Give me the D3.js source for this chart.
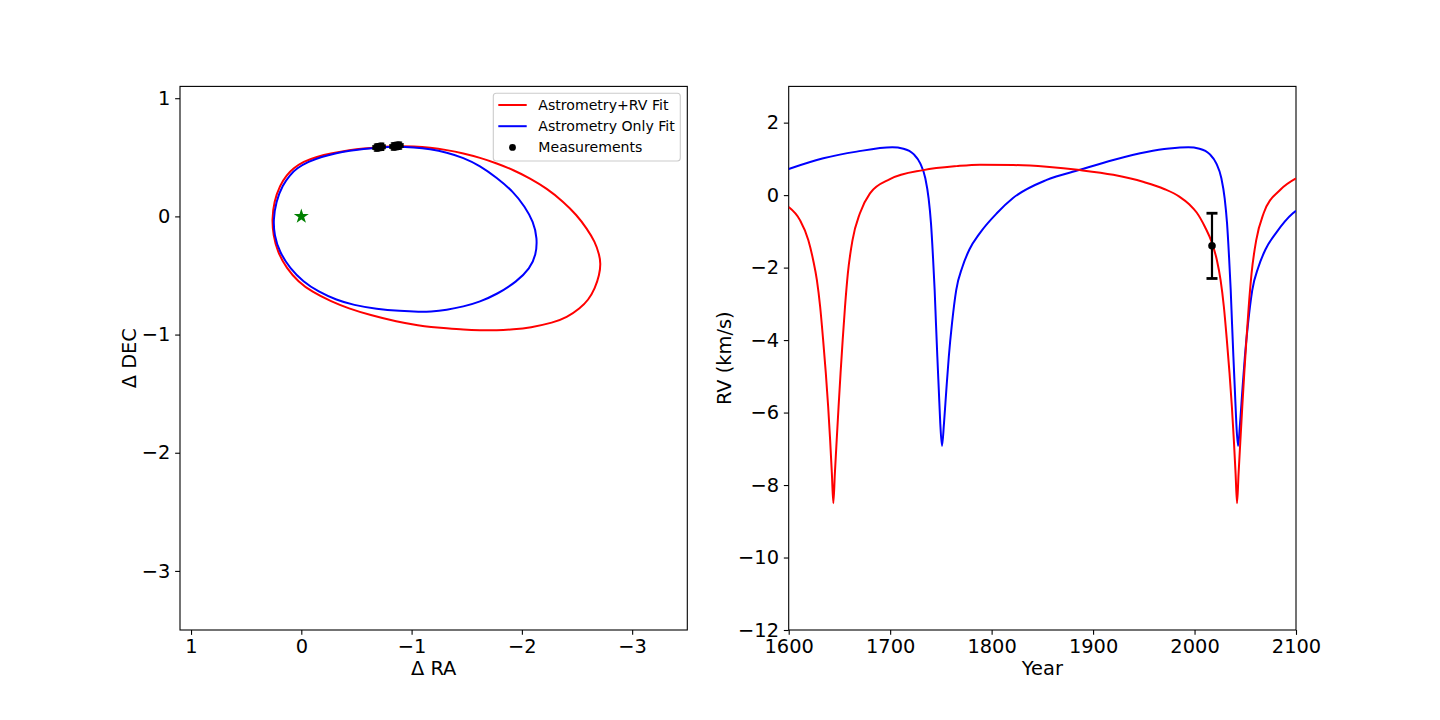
<!DOCTYPE html>
<html>
<head>
<meta charset="utf-8">
<script src="https://cdn.jsdelivr.net/npm/d3@7"></script>
<style>
  html, body { margin: 0; padding: 0; background: #fff; }
  text { font-family: "DejaVu Sans", sans-serif; }
</style>
</head>
<body>
<div id="chart"></div>
<script>
// ---- data ----
// left panel: projected orbits (ΔRA, ΔDEC), traced round the ellipse
var orbitRvRA  = [-0.700, -0.870, -1.020, -1.167, -1.318, -1.469, -1.620, -1.772, -1.923, -2.074, -2.225, -2.376, -2.497, -2.588, -2.663, -2.703, -2.715, -2.703, -2.663, -2.603, -2.527, -2.406, -2.285, -2.074, -1.923, -1.772, -1.620, -1.469, -1.318, -1.167, -1.076, -0.865, -0.623, -0.426, -0.275, -0.094, 0.027, 0.133, 0.217, 0.254, 0.266, 0.248, 0.193, 0.133, 0.072, -0.018, -0.139, -0.275, -0.442, -0.562];
var orbitRvDEC = [0.586, 0.596, 0.592, 0.582, 0.562, 0.534, 0.497, 0.449, 0.393, 0.322, 0.237, 0.125, 0.012, -0.101, -0.214, -0.327, -0.397, -0.496, -0.609, -0.708, -0.778, -0.857, -0.899, -0.942, -0.956, -0.964, -0.964, -0.959, -0.947, -0.935, -0.925, -0.891, -0.835, -0.778, -0.722, -0.637, -0.553, -0.440, -0.299, -0.158, -0.031, 0.125, 0.266, 0.350, 0.407, 0.463, 0.505, 0.534, 0.562, 0.576];
var orbitAstRA  = [-0.700, -0.870, -1.020, -1.167, -1.318, -1.469, -1.620, -1.772, -1.923, -2.028, -2.104, -2.140, -2.128, -2.074, -1.953, -1.772, -1.620, -1.469, -1.318, -1.167, -1.076, -0.895, -0.683, -0.472, -0.321, -0.154, -0.018, 0.103, 0.199, 0.245, 0.254, 0.230, 0.169, 0.103, 0.042, -0.064, -0.185, -0.306, -0.442, -0.562];
var orbitAstDEC = [0.585, 0.592, 0.585, 0.570, 0.542, 0.497, 0.429, 0.328, 0.209, 0.082, -0.045, -0.186, -0.327, -0.440, -0.553, -0.660, -0.722, -0.764, -0.792, -0.806, -0.808, -0.801, -0.784, -0.750, -0.708, -0.637, -0.553, -0.440, -0.299, -0.158, -0.031, 0.125, 0.266, 0.350, 0.407, 0.463, 0.505, 0.534, 0.556, 0.570];

var measRA   = [-0.680, -0.692, -0.705, -0.718, -0.730, -0.834, -0.848, -0.862, -0.877, -0.892];
var measDEC  = [0.582, 0.584, 0.586, 0.588, 0.589, 0.592, 0.594, 0.596, 0.598, 0.599];
var measErr  = [0.03, 0.03, 0.03, 0.03, 0.03, 0.03, 0.03, 0.03, 0.03, 0.03];
var starPos  = [0, 0];

// right panel: RV curves
var rvYearRV = [1600, 1611.1, 1619.3, 1624.1, 1627.75, 1631.0, 1633.95, 1636.6, 1638.9, 1640.85, 1642.55, 1644.0, 1645.5, 1647.3, 1649.15, 1651.1, 1653.2, 1655.5, 1658.3, 1662.9, 1670.2, 1680.1, 1699.8, 1732.7, 1765.6, 1788.5, 1821.4, 1854.3, 1887.1, 1919.9, 1950, 1970, 1985, 1995, 2002.1, 2010.3, 2017.2, 2022.0, 2025.65, 2028.9, 2031.85, 2034.5, 2036.8, 2038.75, 2040.45, 2041.9, 2043.4, 2045.2, 2047.05, 2049.0, 2051.1, 2053.4, 2056.2, 2060.8, 2068.1, 2084.3, 2100];
var rvValRV  = [-0.33, -0.69, -1.24, -1.79, -2.34, -3.08, -4.00, -4.92, -5.84, -6.76, -7.68, -8.50, -7.68, -6.76, -5.84, -4.92, -4.00, -3.08, -2.16, -1.24, -0.50, 0.05, 0.44, 0.69, 0.80, 0.84, 0.83, 0.78, 0.69, 0.56, 0.36, 0.17, -0.04, -0.26, -0.48, -0.88, -1.32, -1.79, -2.34, -3.08, -4.00, -4.92, -5.84, -6.76, -7.68, -8.50, -7.68, -6.76, -5.84, -4.92, -4.00, -3.08, -2.16, -1.24, -0.50, 0.14, 0.46];

var rvYearAst = [1600, 1634.1, 1667, 1702.1, 1713.1, 1723.1, 1729.65, 1734.65, 1737.9, 1740.25, 1742.2, 1743.85, 1745.15, 1746.5, 1747.95, 1749.4, 1751.1, 1753.05, 1755.35, 1757.8, 1760.95, 1765.1, 1771.1, 1778.1, 1788.6, 1805.1, 1821.1, 1854.3, 1887.1, 1919.9, 1952.8, 1975, 1993.9, 2004.9, 2014.9, 2021.45, 2026.45, 2029.7, 2032.05, 2034.0, 2035.65, 2036.95, 2038.3, 2039.75, 2041.2, 2042.9, 2044.85, 2047.15, 2049.6, 2052.75, 2056.9, 2062.9, 2069.9, 2080.4, 2096.9, 2100];
var rvValAst  = [0.72, 1.015, 1.20, 1.32, 1.28, 1.13, 0.875, 0.465, -0.09, -0.78, -1.70, -2.62, -3.54, -4.46, -5.38, -6.30, -6.92, -6.30, -5.38, -4.46, -3.54, -2.62, -1.99, -1.50, -1.04, -0.50, -0.08, 0.42, 0.70, 0.97, 1.19, 1.285, 1.32, 1.28, 1.13, 0.875, 0.465, -0.09, -0.78, -1.70, -2.62, -3.54, -4.46, -5.38, -6.30, -6.92, -6.30, -5.38, -4.46, -3.54, -2.62, -1.99, -1.50, -1.04, -0.50, -0.43];

var rvObsYear = [2017.2];
var rvObsVal  = [-1.40];
var rvObsErr  = [0.90];

var xTicksL = [1, 0, -1, -2, -3];
var yTicksL = [1, 0, -1, -2, -3];
var xTicksR = [1600, 1700, 1800, 1900, 2000, 2100];
var yTicksR = [2, 0, -2, -4, -6, -8, -10, -12];

var legendLabels = ["Astrometry+RV Fit", "Astrometry Only Fit", "Measurements"];

// ---- layout ----
var W = 1440, H = 720;
var axTop = 86.4, axBot = 630;
var fs = 19.4, tick = 4.86;

var svg = d3.select("#chart").append("svg")
    .attr("width", W)
    .attr("height", H)
    .style("background", "#fff");

var xL = d3.scaleLinear().domain([1.1, -3.5]).range([180, 687.3]);
var yL = d3.scaleLinear().domain([-3.5, 1.1]).range([axBot, axTop]);
var xR = d3.scaleLinear().domain([1600, 2100]).range([788.7, 1296]);
var yR = d3.scaleLinear().domain([-12, 3]).range([axBot, axTop]);

var fmt = d3.format("d");

function drawAxes(x, y, xt, yt, xlabel, ylabel, ylabelX) {
  var g = svg.append("g");
  var ax = g.append("g")
      .attr("transform", "translate(0," + axBot + ")")
      .call(d3.axisBottom(x).tickValues(xt).tickFormat(fmt).tickSize(tick).tickPadding(tick).tickSizeOuter(0));
  var ay = g.append("g")
      .attr("transform", "translate(" + x.range()[0] + ",0)")
      .call(d3.axisLeft(y).tickValues(yt).tickFormat(fmt).tickSize(tick).tickPadding(tick).tickSizeOuter(0));
  [ax, ay].forEach(function(a) {
    a.select(".domain").remove();
    a.attr("font-family", "DejaVu Sans").attr("font-size", fs);
    a.selectAll(".tick line").attr("stroke", "#000").attr("stroke-width", 1.1);
    a.selectAll(".tick text").attr("fill", "#000");
  });
  g.append("rect")
      .attr("x", x.range()[0])
      .attr("y", axTop)
      .attr("width", x.range()[1] - x.range()[0])
      .attr("height", axBot - axTop)
      .attr("fill", "none")
      .attr("stroke", "#000")
      .attr("stroke-width", 1.1);
  g.append("text")
      .attr("x", (x.range()[0] + x.range()[1]) / 2)
      .attr("y", 675)
      .attr("text-anchor", "middle")
      .attr("font-size", fs)
      .text(xlabel);
  g.append("text")
      .attr("transform", "translate(" + ylabelX + "," + ((axTop + axBot) / 2) + ") rotate(-90)")
      .attr("text-anchor", "middle")
      .attr("dy", "0.35em")
      .attr("font-size", fs)
      .text(ylabel);
}

drawAxes(xL, yL, xTicksL, yTicksL, "\u0394 RA", "\u0394 DEC", 129);
drawAxes(xR, yR, xTicksR, yTicksR, "Year", "RV (km/s)", 724);

// clip regions
var defs = svg.append("defs");
defs.append("clipPath").attr("id", "clipL").append("rect")
    .attr("x", 180).attr("y", axTop).attr("width", 507.3).attr("height", axBot - axTop);
defs.append("clipPath").attr("id", "clipR").append("rect")
    .attr("x", 788.7).attr("y", axTop).attr("width", 507.3).attr("height", axBot - axTop);

// ---- left panel ----
var pl = svg.append("g").attr("clip-path", "url(#clipL)");
// B-spline evens out the small wobble of hand-read points
var orbitLine = d3.line()
    .x(function(d) { return xL(d[0]); })
    .y(function(d) { return yL(d[1]); })
    .curve(d3.curveBasisClosed);

pl.append("path")
    .datum(d3.zip(orbitRvRA, orbitRvDEC))
    .attr("d", orbitLine)
    .attr("fill", "none")
    .attr("stroke", "#ff0000")
    .attr("stroke-width", 2);
pl.append("path")
    .datum(d3.zip(orbitAstRA, orbitAstDEC))
    .attr("d", orbitLine)
    .attr("fill", "none")
    .attr("stroke", "#0000ff")
    .attr("stroke-width", 2);

var meas = d3.zip(measRA, measDEC, measErr);
var cap = 2.5;
var mg = pl.append("g").attr("stroke", "#000").attr("stroke-width", 1.3);
meas.forEach(function(d) {
  var cx = xL(d[0]), cy = yL(d[1]);
  var x0 = xL(d[0] + d[2]), x1 = xL(d[0] - d[2]);
  var y0 = yL(d[1] + d[2]), y1 = yL(d[1] - d[2]);
  mg.append("line").attr("x1", x0).attr("x2", x1).attr("y1", cy).attr("y2", cy);
  mg.append("line").attr("x1", cx).attr("x2", cx).attr("y1", y0).attr("y2", y1);
  mg.append("line").attr("x1", x0).attr("x2", x0).attr("y1", cy - cap).attr("y2", cy + cap);
  mg.append("line").attr("x1", x1).attr("x2", x1).attr("y1", cy - cap).attr("y2", cy + cap);
  mg.append("line").attr("x1", cx - cap).attr("x2", cx + cap).attr("y1", y0).attr("y2", y0);
  mg.append("line").attr("x1", cx - cap).attr("x2", cx + cap).attr("y1", y1).attr("y2", y1);
});
pl.selectAll(".meas")
    .data(meas)
  .enter().append("circle")
    .attr("class", "meas")
    .attr("cx", function(d) { return xL(d[0]); })
    .attr("cy", function(d) { return yL(d[1]); })
    .attr("r", 3.5)
    .attr("fill", "#000");

pl.append("path")
    .attr("d", d3.symbol().type(d3.symbolStar).size(70)())
    .attr("transform", "translate(" + xL(starPos[0]) + "," + yL(starPos[1]) + ")")
    .attr("fill", "#008000");

// legend
var lg = svg.append("g");
lg.append("rect")
    .attr("x", 493.3).attr("y", 93.3)
    .attr("width", 187).attr("height", 67.7)
    .attr("rx", 3).attr("ry", 3)
    .attr("fill", "#fff").attr("fill-opacity", 0.8)
    .attr("stroke", "#cccccc").attr("stroke-width", 1.1);
var legColors = ["#ff0000", "#0000ff", "#000"];
legendLabels.forEach(function(t, i) {
  var cy = 105 + i * 21.2;
  if (i < 2) {
    lg.append("line")
        .attr("x1", 498.3).attr("x2", 526.7)
        .attr("y1", cy).attr("y2", cy)
        .attr("stroke", legColors[i]).attr("stroke-width", 2);
  } else {
    lg.append("circle").attr("cx", 512.5).attr("cy", cy).attr("r", 3.4).attr("fill", "#000");
  }
  lg.append("text")
      .attr("x", 538.3).attr("y", cy)
      .attr("dy", "0.36em")
      .attr("font-size", 14.1)
      .attr("fill", "#000")
      .text(t);
});

// ---- right panel ----
var pr = svg.append("g").attr("clip-path", "url(#clipR)");
var rvLine = d3.line()
    .x(function(d) { return xR(d[0]); })
    .y(function(d) { return yR(d[1]); })
    .curve(d3.curveMonotoneX);

pr.append("path")
    .datum(d3.zip(rvYearAst, rvValAst))
    .attr("d", rvLine)
    .attr("fill", "none")
    .attr("stroke", "#0000ff")
    .attr("stroke-width", 2);
pr.append("path")
    .datum(d3.zip(rvYearRV, rvValRV))
    .attr("d", rvLine)
    .attr("fill", "none")
    .attr("stroke", "#ff0000")
    .attr("stroke-width", 2);

var obs = d3.zip(rvObsYear, rvObsVal, rvObsErr);
var og = svg.append("g").attr("stroke", "#000").attr("stroke-width", 2.2);
obs.forEach(function(d) {
  var cx = xR(d[0]);
  og.append("line").attr("x1", cx).attr("x2", cx).attr("y1", yR(d[1] + d[2])).attr("y2", yR(d[1] - d[2]));
  og.append("line").attr("x1", cx - 5.5).attr("x2", cx + 5.5).attr("y1", yR(d[1] + d[2])).attr("y2", yR(d[1] + d[2])).attr("stroke-width", 2.8);
  og.append("line").attr("x1", cx - 5.5).attr("x2", cx + 5.5).attr("y1", yR(d[1] - d[2])).attr("y2", yR(d[1] - d[2])).attr("stroke-width", 2.8);
});
svg.selectAll(".obs")
    .data(obs)
  .enter().append("circle")
    .attr("class", "obs")
    .attr("cx", function(d) { return xR(d[0]); })
    .attr("cy", function(d) { return yR(d[1]); })
    .attr("r", 3.8)
    .attr("fill", "#000");
</script>
</body>
</html>
